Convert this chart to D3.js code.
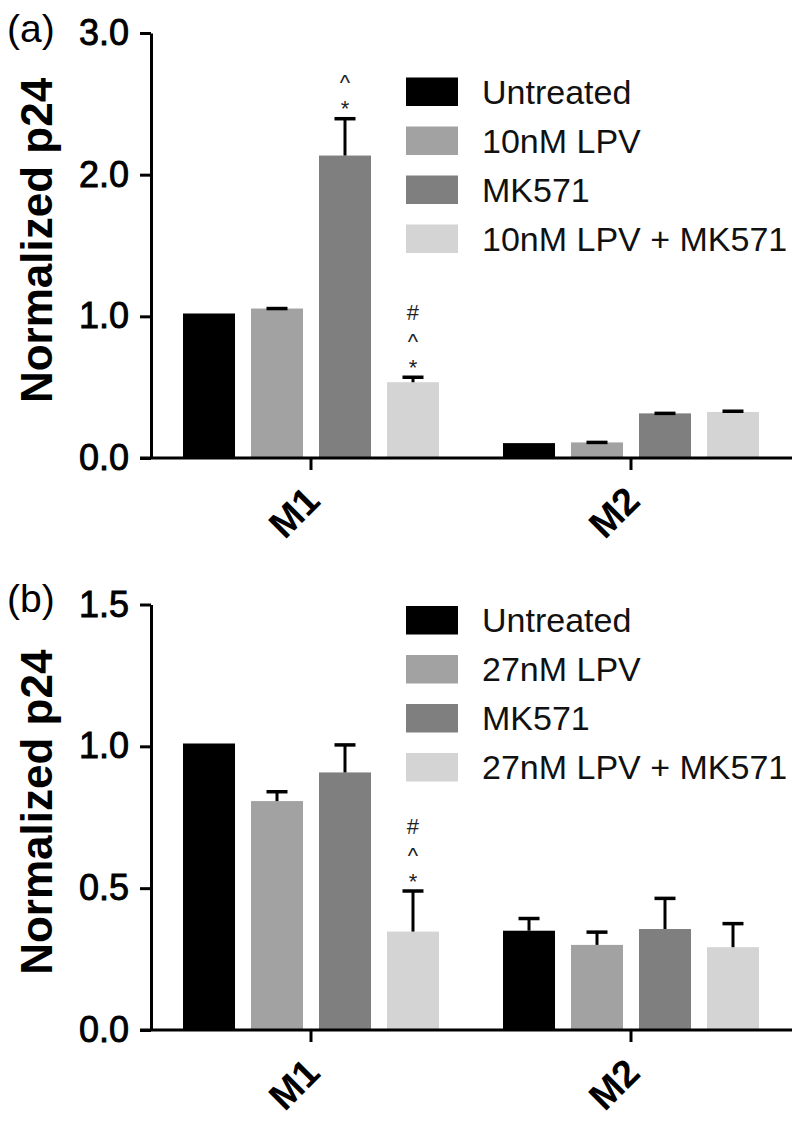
<!DOCTYPE html>
<html>
<head>
<meta charset="utf-8">
<script src="https://cdn.jsdelivr.net/npm/d3@7"></script>
<style>
  html, body { margin: 0; padding: 0; background: #fff; }
  svg { display: block; font-family: "Liberation Sans", Arial, Helvetica, sans-serif; }
</style>
</head>
<body>
<svg id="chart" width="800" height="1121"></svg>
<script>
// ---------- data ----------
const categories = ["M1", "M2"];

const seriesA = ["Untreated", "10nM LPV", "MK571", "10nM LPV + MK571"];
const valuesA_M1 = [1.02, 1.055, 2.135, 0.535];
const errorsA_M1 = [null, 0.0, 0.26, 0.035];
const valuesA_M2 = [0.105, 0.11, 0.315, 0.325];
const errorsA_M2 = [null, 0.0, 0.0, 0.005];
const yTicksA = [0, 1, 2, 3];
const marksA = [
  { cat: "M1", series: 2, text: ["*", "^"] },
  { cat: "M1", series: 3, text: ["*", "^", "#"] }
];

const seriesB = ["Untreated", "27nM LPV", "MK571", "27nM LPV + MK571"];
const valuesB_M1 = [1.01, 0.807, 0.908, 0.347];
const errorsB_M1 = [null, 0.033, 0.097, 0.143];
const valuesB_M2 = [0.35, 0.30, 0.356, 0.292];
const errorsB_M2 = [0.043, 0.045, 0.108, 0.083];
const yTicksB = [0, 0.5, 1.0, 1.5];
const marksB = [
  { cat: "M1", series: 3, text: ["*", "^", "#"] }
];

const colors = ["#000000", "#a2a2a2", "#7f7f7f", "#d4d4d4"];

// ---------- drawing ----------
const svg = d3.select("#chart");

function panel(opts) {
  const g = svg.append("g");
  const x0 = d3.scaleBand().domain(categories).range([151, 791]).padding(0);
  const x1 = d3.scaleBand().domain(d3.range(opts.series.length))
    .range([32, 288]).paddingInner(0.235).paddingOuter(0);
  const y = d3.scaleLinear().domain(opts.yDomain).range(opts.yRange);
  const color = d3.scaleOrdinal().domain(d3.range(4)).range(colors);

  const rows = [];
  categories.forEach((c, ci) => {
    opts.values[ci].forEach((v, si) => {
      rows.push({ cat: c, s: si, v: v, e: opts.errors[ci][si] });
    });
  });

  // bars
  g.selectAll("rect.bar").data(rows).join("rect")
    .attr("class", "bar")
    .attr("x", d => x0(d.cat) + x1(d.s))
    .attr("width", x1.bandwidth())
    .attr("y", d => y(d.v))
    .attr("height", d => y(0) - y(d.v))
    .attr("fill", d => color(d.s));

  // error bars
  const eb = rows.filter(d => d.e !== null);
  const cx = d => x0(d.cat) + x1(d.s) + x1.bandwidth() / 2;
  g.selectAll("line.err").data(eb).join("line")
    .attr("class", "err")
    .attr("x1", cx).attr("x2", cx)
    .attr("y1", d => y(d.v)).attr("y2", d => y(d.v + d.e))
    .attr("stroke", "#000").attr("stroke-width", 3);
  g.selectAll("line.cap").data(eb).join("line")
    .attr("class", "cap")
    .attr("x1", d => cx(d) - 10.5).attr("x2", d => cx(d) + 10.5)
    .attr("y1", d => y(d.v + d.e)).attr("y2", d => y(d.v + d.e))
    .attr("stroke", "#000").attr("stroke-width", 3.5);

  // y axis
  const yAxis = d3.axisLeft(y).tickValues(opts.yTicks).tickFormat(d3.format(".1f"))
    .tickSize(11).tickSizeOuter(0).tickPadding(11);
  const ya = g.append("g").attr("transform", "translate(151,0)").call(yAxis);
  ya.selectAll("path, line").attr("stroke", "#000").attr("stroke-width", 3);
  ya.selectAll("text").attr("font-size", 36).attr("fill", "#000")
    .attr("stroke", "#000").attr("stroke-width", 0.9)
    .attr("font-family", "'Liberation Sans', Arial, sans-serif");

  // x axis
  const yBase = y(0);
  g.append("line").attr("x1", 140).attr("x2", 792).attr("y1", yBase).attr("y2", yBase)
    .attr("stroke", "#000").attr("stroke-width", 3);
  g.selectAll("line.xt").data(categories).join("line")
    .attr("class", "xt")
    .attr("x1", d => x0(d) + x0.bandwidth() / 2).attr("x2", d => x0(d) + x0.bandwidth() / 2)
    .attr("y1", yBase).attr("y2", yBase + 12)
    .attr("stroke", "#000").attr("stroke-width", 3);
  g.selectAll("text.xl").data(categories).join("text")
    .attr("class", "xl")
    .attr("transform", d => `translate(${x0(d) + x0.bandwidth() / 2 + 11},${yBase + 45}) rotate(-45)`)
    .attr("text-anchor", "end")
    .attr("font-size", 38).attr("font-weight", "bold").attr("fill", "#000")
    .text(d => d);

  // y title
  const yMid = (opts.yRange[0] + opts.yRange[1]) / 2 - 5;
  g.append("text")
    .attr("transform", `translate(52,${yMid}) rotate(-90)`)
    .attr("text-anchor", "middle")
    .attr("font-size", 44).attr("font-weight", "bold").attr("fill", "#000")
    .text("Normalized p24");

  // panel label
  g.append("text").attr("x", 7).attr("y", opts.labelY)
    .attr("font-size", 39).attr("fill", "#000").text(opts.label);

  // legend
  const lg = g.append("g");
  opts.series.forEach((s, i) => {
    const top = opts.legendTop + i * 49;
    lg.append("rect").attr("x", 406).attr("y", top).attr("width", 52).attr("height", 28.5)
      .attr("fill", colors[i]);
    lg.append("text").attr("x", 482).attr("y", top + 14.3 + 12)
      .attr("font-size", 34).attr("fill", "#111").text(s);
  });

  // significance marks (stacked above the error bar)
  const fs = 22;
  const step = 25;
  const offs = { "*": 0.575, "^": 0.53, "#": 0.35 };
  opts.marks.forEach(m => {
    const ci = categories.indexOf(m.cat);
    const v = opts.values[ci][m.series];
    const e = opts.errors[ci][m.series] || 0;
    const mx = x0(m.cat) + x1(m.series) + x1.bandwidth() / 2;
    const base = y(v + e) - 15;
    const t = g.append("text").attr("text-anchor", "middle")
      .attr("font-size", fs).attr("fill", "#222");
    m.text.forEach((s, k) => {
      const centerY = base - k * step;
      t.append("tspan").attr("x", mx).attr("y", centerY + offs[s] * fs).text(s);
    });
  });
}

panel({
  series: seriesA, values: [valuesA_M1, valuesA_M2], errors: [errorsA_M1, errorsA_M2],
  yDomain: [0, 3], yRange: [458, 33], yTicks: yTicksA, marks: marksA,
  label: "(a)", labelY: 42, legendTop: 77.5
});
panel({
  series: seriesB, values: [valuesB_M1, valuesB_M2], errors: [errorsB_M1, errorsB_M2],
  yDomain: [0, 1.5], yRange: [1030, 604.5], yTicks: yTicksB, marks: marksB,
  label: "(b)", labelY: 612, legendTop: 606
});
</script>
</body>
</html>
